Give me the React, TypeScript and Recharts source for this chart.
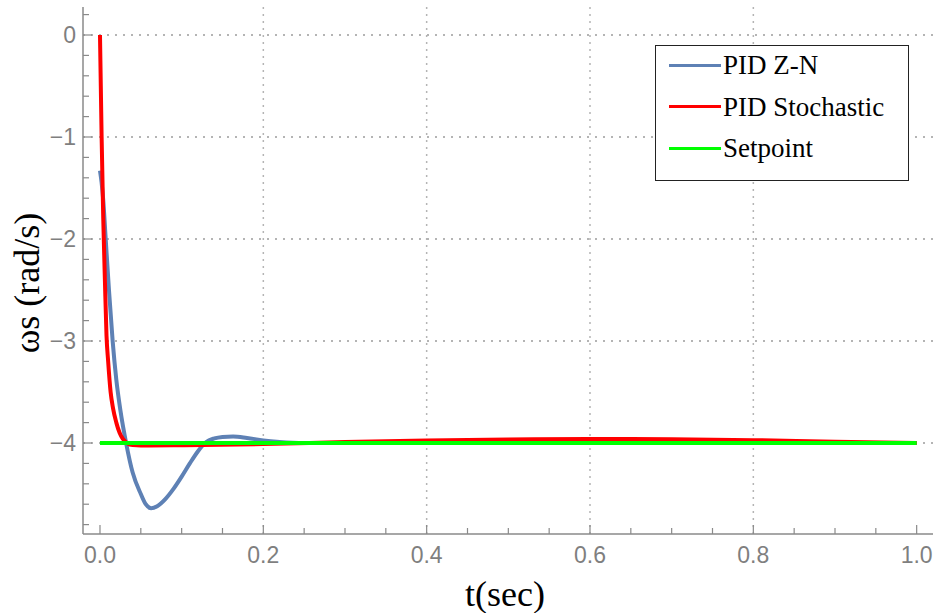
import React from 'react';
import { LineChart, Line, XAxis, YAxis, ReferenceLine, Legend } from 'recharts';

// ---- data ----
const seriesNames = ['PID Z-N', 'PID Stochastic', 'Setpoint'];
const seriesColors = ['#5E81B5', '#FF0000', '#00FF00'];

const tZN = [0, 0.002, 0.004, 0.007, 0.011, 0.0155, 0.02, 0.025, 0.032, 0.04, 0.05, 0.056, 0.0625, 0.07, 0.08, 0.09, 0.1, 0.11, 0.12, 0.13, 0.14, 0.15, 0.163, 0.18, 0.2, 0.22, 0.25, 0.3, 0.4, 0.6, 0.8, 1.0];
const vZN = [-1.33, -1.45, -1.62, -2.0, -2.5, -3.0, -3.38, -3.68, -4.0, -4.29, -4.5, -4.6, -4.64, -4.62, -4.55, -4.45, -4.33, -4.2, -4.08, -3.99, -3.955, -3.94, -3.935, -3.95, -3.975, -3.99, -4.0, -4.0, -4.0, -4.0, -4.0, -4.0];

const tStoch = [0, 0.002, 0.004, 0.006, 0.008, 0.01, 0.013, 0.016, 0.02, 0.024, 0.028, 0.033, 0.04, 0.06, 0.1, 0.2, 0.3, 0.4, 0.5, 0.6, 0.65, 0.7, 0.8, 0.9, 1.0];
const vStoch = [0, -1.0, -1.8, -2.4, -2.95, -3.2, -3.5, -3.66, -3.8, -3.9, -3.96, -4.0, -4.02, -4.025, -4.022, -4.01, -3.99, -3.975, -3.965, -3.96, -3.96, -3.962, -3.972, -3.988, -4.0];

const tSet = [0, 1.0];
const vSet = [-4, -4];

const xTicks = [0, 0.05, 0.1, 0.15, 0.2, 0.25, 0.3, 0.35, 0.4, 0.45, 0.5, 0.55, 0.6, 0.65, 0.7, 0.75, 0.8, 0.85, 0.9, 0.95, 1.0];
const xMajor = [0, 0.2, 0.4, 0.6, 0.8, 1.0];
const xLabels = ['0.0', '0.2', '0.4', '0.6', '0.8', '1.0'];
const yTicks = [0.2, 0, -0.2, -0.4, -0.6, -0.8, -1, -1.2, -1.4, -1.6, -1.8, -2, -2.2, -2.4, -2.6, -2.8, -3, -3.2, -3.4, -3.6, -3.8, -4, -4.2, -4.4, -4.6, -4.8];
const yMajor = [0, -1, -2, -3, -4];
const yLabels = ['0', '\u22121', '\u22122', '\u22123', '\u22124'];
const xGrid = [0.2, 0.4, 0.6, 0.8];
const yGrid = [0, -1, -2, -3, -4];

const xDomain = [-0.0208, 1.02];
const yDomain = [-4.892, 0.2745];

const zip = (t: number[], v: number[]) => t.map((x, i) => ({ t: x, v: v[i] }));
const dataZN = zip(tZN, vZN);
const dataStoch = zip(tStoch, vStoch);
const dataSet = zip(tSet, vSet);

const AXIS = '#8a8a8a';
const LABEL = '#7f7f7f';
const TICKFONT = 'Liberation Sans, Arial, sans-serif';
const SERIF = '"Liberation Serif", "Times New Roman", serif';

const majorIdx = (arr: number[], v: number) => arr.findIndex((m) => Math.abs(m - v) < 1e-9);

const BottomTick = (props: any) => {
  const { x, y, payload } = props;
  const i = majorIdx(xMajor, payload.value);
  const len = i >= 0 ? 9 : 6;
  return (
    <g>
      <line x1={x} x2={x} y1={y} y2={y - len} stroke={AXIS} strokeWidth={1.2} />
      {i >= 0 && (
        <text x={x} y={y + 29} textAnchor="middle" fontSize={23} fill={LABEL} fontFamily={TICKFONT}>
          {xLabels[i]}
        </text>
      )}
    </g>
  );
};

const TopTick = (props: any) => {
  const { x, y, payload } = props;
  const i = majorIdx(xMajor, payload.value);
  const len = i >= 0 ? 9 : 6;
  return <line x1={x} x2={x} y1={y} y2={y + len} stroke={AXIS} strokeWidth={1.2} />;
};

const LeftTick = (props: any) => {
  const { x, y, payload } = props;
  const i = majorIdx(yMajor, payload.value);
  const len = i >= 0 ? 9 : 6;
  return (
    <g>
      <line x1={x} x2={x + len} y1={y} y2={y} stroke={AXIS} strokeWidth={1.2} />
      {i >= 0 && (
        <text x={x - 7} y={y + 8} textAnchor="end" fontSize={23} fill={LABEL} fontFamily={TICKFONT}>
          {yLabels[i]}
        </text>
      )}
    </g>
  );
};

const RightTick = (props: any) => {
  const { x, y, payload } = props;
  const i = majorIdx(yMajor, payload.value);
  const len = i >= 0 ? 9 : 6;
  return <line x1={x} x2={x - len} y1={y} y2={y} stroke={AXIS} strokeWidth={1.2} />;
};

const LegendBox = (props: any) => {
  const payload = [...(props.payload || [])].sort(
    (a: any, b: any) => seriesNames.indexOf(a.value) - seriesNames.indexOf(b.value)
  );
  return (
    <div
      style={{
        width: 254,
        height: 136,
        border: '1px solid #222',
        boxSizing: 'border-box',
        background: '#fff',
        position: 'relative',
        fontFamily: SERIF,
        fontSize: 27,
        color: '#000',
      }}
    >
      {payload.map((p: any, i: number) => (
        <div
          key={p.value}
          style={{
            position: 'absolute',
            left: 13,
            top: 19 + 41.5 * i - 16,
            height: 32,
            display: 'flex',
            alignItems: 'center',
            whiteSpace: 'nowrap',
            lineHeight: '32px',
          }}
        >
          <div style={{ width: 52, height: 3, background: p.color }} />
          <span style={{ marginLeft: 2 }}>{p.value}</span>
        </div>
      ))}
    </div>
  );
};

export default function App() {
  return (
    <div style={{ position: 'absolute', left: 0, top: 0, width: 936, height: 613, background: '#fff' }}>
      <LineChart width={936} height={613} margin={{ top: 7, right: 3, bottom: 0, left: 0 }}>
        <XAxis
          dataKey="t"
          type="number"
          domain={xDomain}
          allowDataOverflow
          ticks={xTicks}
          interval={0}
          height={79}
          tickSize={0}
          tickMargin={0}
          tickLine={false}
          tick={<BottomTick />}
          axisLine={{ stroke: AXIS, strokeWidth: 1.5 }}
        />
        <XAxis
          xAxisId="top"
          orientation="top"
          dataKey="t"
          type="number"
          domain={xDomain}
          allowDataOverflow
          ticks={xTicks}
          interval={0}
          height={0}
          tickSize={0}
          tickMargin={0}
          tickLine={false}
          tick={<TopTick />}
          axisLine={{ stroke: AXIS, strokeWidth: 1.5 }}
        />
        <YAxis
          type="number"
          domain={yDomain}
          allowDataOverflow
          ticks={yTicks}
          interval={0}
          width={83}
          tickSize={0}
          tickMargin={0}
          tickLine={false}
          tick={<LeftTick />}
          axisLine={{ stroke: AXIS, strokeWidth: 1.5 }}
        />
        <YAxis
          yAxisId="right"
          orientation="right"
          type="number"
          domain={yDomain}
          allowDataOverflow
          ticks={yTicks}
          interval={0}
          width={0}
          tickSize={0}
          tickMargin={0}
          tickLine={false}
          tick={<RightTick />}
          axisLine={{ stroke: AXIS, strokeWidth: 1.5 }}
        />
        {yGrid.map((g) => (
          <ReferenceLine key={'y' + g} y={g} stroke="#b4b4b4" strokeWidth={2} strokeDasharray="2 6" />
        ))}
        {xGrid.map((g) => (
          <ReferenceLine key={'x' + g} x={g} stroke="#b4b4b4" strokeWidth={1.5} strokeDasharray="2 5" />
        ))}
        <Line
          data={dataZN}
          dataKey="v"
          name={seriesNames[0]}
          type="monotone"
          stroke={seriesColors[0]}
          strokeWidth={4}
          dot={false}
          activeDot={false}
          isAnimationActive={false}
        />
        <Line
          data={dataStoch}
          dataKey="v"
          name={seriesNames[1]}
          type="monotone"
          stroke={seriesColors[1]}
          strokeWidth={4}
          dot={false}
          activeDot={false}
          isAnimationActive={false}
        />
        <Line
          data={dataSet}
          dataKey="v"
          name={seriesNames[2]}
          type="linear"
          stroke={seriesColors[2]}
          strokeWidth={4}
          dot={false}
          activeDot={false}
          isAnimationActive={false}
        />
        <Legend
          layout="vertical"
          align="center"
          verticalAlign="middle"
          content={<LegendBox />}
          wrapperStyle={{ position: 'absolute', left: 655, top: 45, width: 254, height: 136 }}
        />
      </LineChart>
      <div
        style={{
          position: 'absolute',
          left: 505,
          top: 594,
          transform: 'translate(-50%, -50%)',
          fontFamily: SERIF,
          fontSize: 36,
          lineHeight: 1,
          whiteSpace: 'nowrap',
          color: '#000',
        }}
      >
        t(sec)
      </div>
      <div
        style={{
          position: 'absolute',
          left: 27,
          top: 283,
          transform: 'translate(-50%, -50%) rotate(-90deg)',
          fontFamily: SERIF,
          fontSize: 36,
          lineHeight: 1,
          whiteSpace: 'nowrap',
          color: '#000',
        }}
      >
        ωs (rad/s)
      </div>
    </div>
  );
}
